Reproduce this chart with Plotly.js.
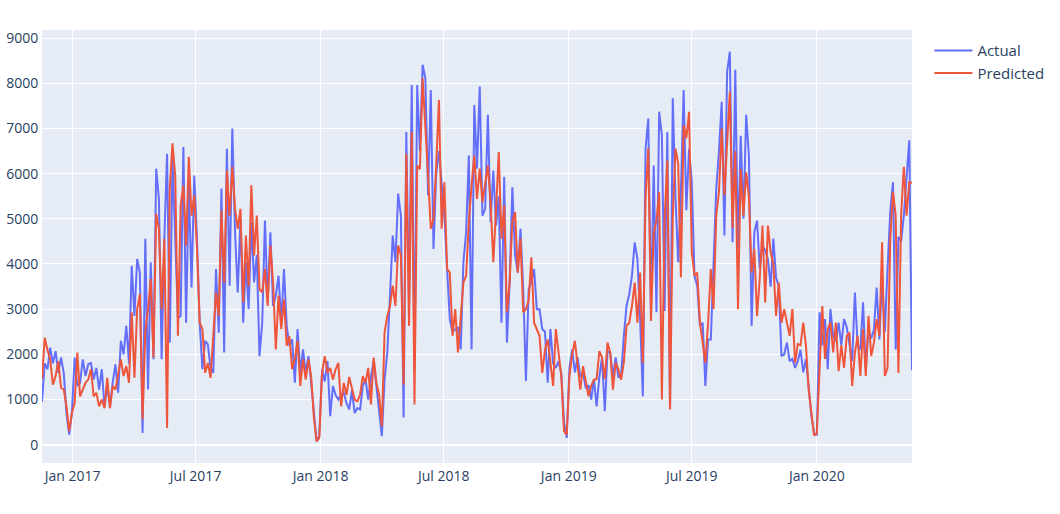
<!DOCTYPE html>
<html>
<head>
<meta charset="utf-8">
<script src="https://cdn.plot.ly/plotly-3.0.1.min.js"></script>
<style>
  body { margin: 0; background: #fff; }
  #chart { width: 1060px; height: 514px; }
</style>
</head>
<body>
<div id="chart"></div>
<script>
// First sample date and spacing (days) of the series
const START_DATE = '2016-11-17';
const STEP_DAYS = 4;

const actual = [
  950,1800,1670,2150,1800,2070,1590,1930,1590,700,
  220,700,1930,1300,1370,1890,1520,1780,1810,1440,
  1700,1220,1670,850,1300,850,1370,1780,1150,2300,
  2000,2630,1800,3960,2850,4110,3810,260,4560,1220,
  4040,1890,6110,5440,1890,4560,6440,2260,6330,4520,
  2800,2850,6590,2700,5800,3480,5960,4560,2700,1670,
  2300,2220,1700,1590,3890,2480,5670,2040,6550,3520,
  7000,4700,3370,5000,2700,4040,3000,4930,3590,4200,
  1960,2700,4960,3150,4700,3070,3300,3740,2700,3890,
  2630,2190,2330,1370,2560,1590,2110,1590,1960,1370,
  700,80,200,1670,1400,1850,630,1300,1100,1000,
  1100,1150,920,780,1200,700,810,780,1300,1450,
  1000,1500,1850,1300,850,190,1440,2040,3300,4630,
  4040,5560,5070,600,6920,3000,7960,1670,7960,6500,
  8410,8110,5520,7850,4330,6000,6500,5800,5070,3890,
  2780,2500,2560,2600,2110,4040,4700,6400,2110,7520,
  6110,7930,5070,5220,7300,4930,6070,4850,5500,2700,
  5930,2260,3590,5700,4200,3810,4780,3440,1410,3440,
  3600,3890,3000,3000,2560,2500,1370,2560,1800,1700,
  1850,1580,500,150,1700,2110,1600,1930,1500,1600,
  1250,1320,1000,1450,850,1500,1930,740,2070,2040,
  1500,1930,1500,1500,2400,3070,3330,3740,4480,4110,
  2780,1070,6550,7220,2900,6180,2930,7370,6850,2960,
  6920,800,7670,5500,4040,5600,7850,5190,6550,5810,
  3740,3520,2630,2700,1300,2330,2330,4260,5670,6500,
  7590,4630,8260,8700,4480,8300,4330,6840,5000,7300,
  6400,2630,4700,4960,3900,4400,4300,4100,3500,4560,
  3700,3500,1960,2000,2260,1850,1900,1700,1850,2100,
  1600,1900,1220,630,250,220,2930,2200,2780,1670,
  3000,2400,2300,2700,2200,2780,2600,2200,1850,3370,
  2200,2100,3150,1650,2550,2350,2550,3480,2330,3700,
  2500,3890,5150,5810,2110,4600,4500,5070,5810,6740,
  1650
];

const predicted = [
  1450,2370,2100,1890,1330,1520,1850,1260,1220,850,
  300,700,920,2040,1070,1220,1370,1440,1670,1070,
  1150,850,1000,810,1480,810,1300,1220,1520,1890,
  1520,1740,1370,2930,1480,3000,3330,560,2500,3000,
  3670,1930,5110,4780,3000,4560,370,5670,6670,5960,
  2410,5300,5740,4400,6370,5070,5520,4330,2700,2560,
  1590,1810,1480,2480,3370,2850,5190,3590,6070,5070,
  6150,5230,4780,5220,3150,4630,3500,5740,4190,5070,
  3440,3370,3890,3070,4410,3600,2110,3300,2560,3220,
  2190,2400,1670,1900,2300,1300,1890,1440,1890,1520,
  600,74,150,1590,1960,1590,1700,1440,1670,1810,
  850,1370,1100,1500,1220,1000,960,1100,1520,1370,
  1700,890,1930,1370,1100,410,2480,2850,3070,3520,
  3070,4410,4190,1330,6440,2630,6920,890,6180,6100,
  8110,7140,5960,4780,5000,6200,7630,4780,5810,3890,
  3810,2410,3000,2040,2930,3590,3740,4930,5740,6400,
  5440,6110,5370,5800,6180,5370,4040,5200,6480,4560,
  5300,2930,3590,4930,5150,3810,4560,2930,3000,3200,
  4150,2700,2560,2410,1590,2100,2330,1800,1300,2560,
  1960,1520,300,220,1520,2000,2300,1740,1220,1740,
  1370,1070,1300,1440,1450,2070,1930,1450,2260,2040,
  1220,1810,1670,1440,1810,2630,2700,3070,3590,2700,
  3810,1810,5440,6560,2740,4700,4960,5590,1000,5000,
  6290,780,5000,6550,6220,3700,7070,6780,7370,4260,
  3740,3810,2700,2260,1810,2700,3890,3000,5070,5600,
  7000,5520,6700,7810,4800,6500,3000,6100,5070,6030,
  5500,3810,4330,2850,3670,4850,3150,4850,4260,4000,
  2850,3590,2700,3000,2700,2410,3000,1810,2230,2200,
  2700,2190,1220,630,200,260,1800,3070,1900,2560,
  2700,2040,2700,1630,2200,1700,2410,2480,1300,2040,
  2410,1520,2560,1520,2850,1960,2260,2780,2410,4480,
  1520,1700,4520,5600,5070,1590,5070,6150,5070,5810,
  5800
];

function buildDates(n) {
  let t0 = Date.parse(START_DATE + 'T00:00:00Z');
  let out = [];
  for (let i = 0; i < n; i++) {
    out.push(new Date(t0 + i * STEP_DAYS * 86400000).toISOString().slice(0, 10));
  }
  return out;
}

const dates = buildDates(actual.length);

let traces = [
  {
    x: dates,
    y: actual,
    type: 'scatter',
    mode: 'lines',
    name: 'Actual',
    line: { color: '#636efa', width: 2 }
  },
  {
    x: dates,
    y: predicted.slice(0, dates.length),
    type: 'scatter',
    mode: 'lines',
    name: 'Predicted',
    line: { color: '#EF553B', width: 2 }
  }
];

let layout = {
  width: 1060,
  height: 514,
  margin: { l: 42, r: 148, t: 30, b: 51, autoexpand: false },
  paper_bgcolor: '#ffffff',
  plot_bgcolor: '#E5ECF6',
  font: { family: '"Open Sans", verdana, arial, sans-serif', size: 12, color: '#2a3f5f' },
  showlegend: true,
  legend: { x: 1.02, y: 0.99, itemwidth: 38, tracegroupgap: 0, font: { size: 15 } },
  xaxis: {
    type: 'date',
    gridcolor: 'white',
    linecolor: 'white',
    zeroline: false,
    ticks: '',
    tickfont: { size: 14 }
  },
  yaxis: {
    gridcolor: 'white',
    zerolinecolor: 'white',
    zerolinewidth: 2,
    linecolor: 'white',
    ticks: '',
    tickfont: { size: 14 }
  }
};

Plotly.newPlot('chart', traces, layout, { displayModeBar: false });
</script>
</body>
</html>
